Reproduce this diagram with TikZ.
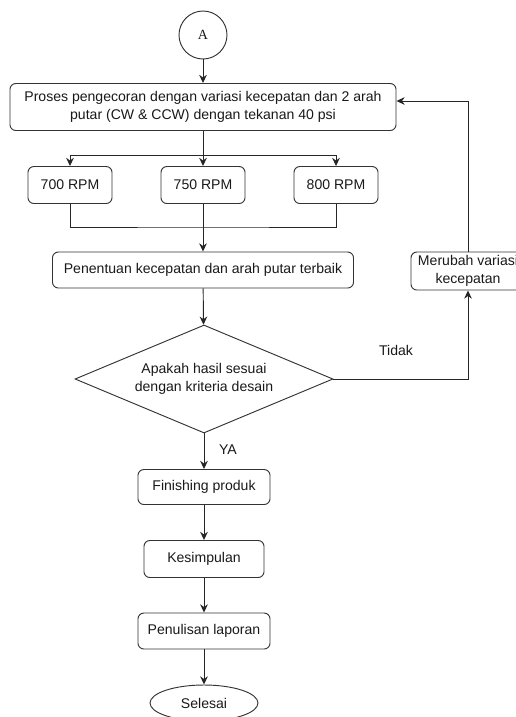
\documentclass[tikz,border=0pt]{standalone}
\usepackage{fontspec}
\setmainfont{Liberation Sans}
\newfontfamily\serifA{Liberation Serif}
\usetikzlibrary{shapes.geometric,arrows.meta}

\begin{document}
\begin{tikzpicture}[x=0.03cm, y=-0.03cm,
		font=\fontsize{12}{15}\selectfont,
		every node/.style={text=black!90, draw=black!80, line width=0.8pt},
		proses/.style={rectangle, rounded corners=5pt, align=center, inner sep=2pt},
		keputusan/.style={diamond, aspect=2.4, inner sep=0pt, minimum width=7.74cm, minimum height=3.24cm, align=center},
		label teks/.style={draw=none},
		arr/.style={-{Stealth[length=7pt,width=6.5pt]}, line width=0.8pt, draw=black!85},
		garis/.style={line width=0.8pt, draw=black!85}
		]
	\useasboundingbox (0,0) rectangle (516,717);
	\node [circle, minimum size=1.44cm, inner sep=0pt] (mulai) at (203,35) {\serifA A};
	\node [proses, minimum width=11.58cm, minimum height=1.41cm] (pengecoran) at (203,107)
		{Proses pengecoran dengan variasi kecepatan dan 2 arah\\putar (CW \& CCW) dengan tekanan 40 psi};
	\node [proses, minimum width=2.52cm, minimum height=1.11cm] (rpm700) at (70,185) {700 RPM};
	\node [proses, minimum width=2.52cm, minimum height=1.11cm] (rpm750) at (203,185) {750 RPM};
	\node [proses, minimum width=2.52cm, minimum height=1.11cm] (rpm800) at (336,185) {800 RPM};
	\node [proses, minimum width=9.03cm, minimum height=1.08cm] (terbaik) at (203,270)
		{Penentuan kecepatan dan arah putar terbaik};
	\node [keputusan] (sesuai) at (204,379) {Apakah hasil sesuai\\dengan kriteria desain};
	\node [proses, minimum width=3.42cm, minimum height=1.14cm] (merubah) at (468,271)
		{Merubah variasi\\kecepatan};
	\node [proses, minimum width=3.96cm, minimum height=1.05cm] (finishing) at (204,487) {Finishing produk};
	\node [proses, minimum width=3.6cm, minimum height=1.11cm] (kesimpulan) at (204,559) {Kesimpulan};
	\node [proses, minimum width=3.96cm, minimum height=1.08cm] (laporan) at (204,631) {Penulisan laporan};
	\node [ellipse, minimum width=3.24cm, minimum height=1.08cm] (selesai) at (204,703) {Selesai};
	\node [label teks] (tidak) at (396,350) {Tidak};
	\node [label teks] (ya) at (228,450) {YA};

	\coordinate (cabang) at (203,155);
	\coordinate (gabung) at (203,227);
	\coordinate (balik) at (468,101);

	% alur utama
	\draw [arr] (mulai) -- (pengecoran);
	\draw [arr] (pengecoran) -- (rpm750);
	\draw [arr] (cabang) -| (rpm700);
	\draw [arr] (cabang) -| (rpm800);
	\draw [garis] (rpm700) |- (gabung) -| (rpm800);
	\draw [arr] (rpm750) -- (terbaik);
	\draw [arr] (terbaik) -- (sesuai);
	\draw [arr] (sesuai) -- (finishing);
	\draw [arr] (finishing) -- (kesimpulan);
	\draw [arr] (kesimpulan) -- (laporan);
	\draw [arr] (laporan) -- (selesai);
	% alur tidak
	\draw [arr] (sesuai.east) -| (merubah.south);
	\draw [arr] (merubah.north) -- (balik) -- (balik -| pengecoran.east);
\end{tikzpicture}
\end{document}
